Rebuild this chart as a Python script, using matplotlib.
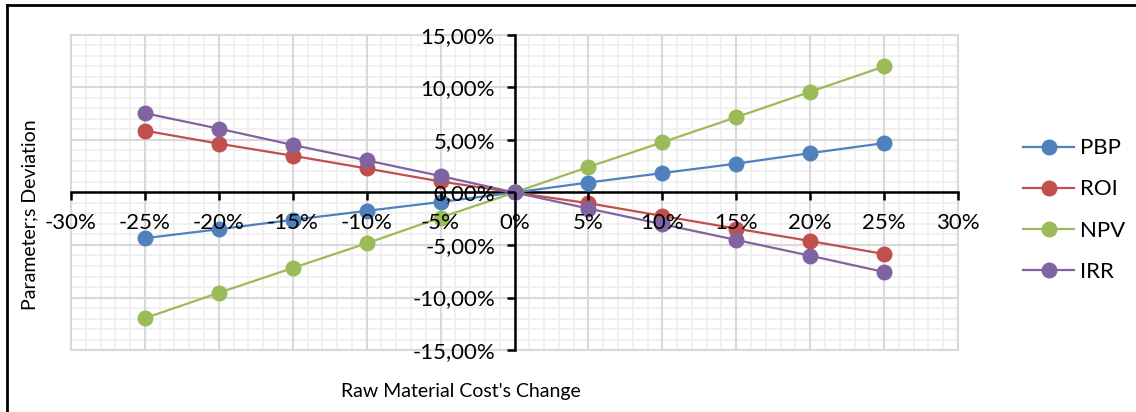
import matplotlib
matplotlib.use("Agg")
import matplotlib.pyplot as plt
from matplotlib.ticker import MultipleLocator, FuncFormatter
from matplotlib.patches import Rectangle
from matplotlib.lines import Line2D

plt.rcParams['font.family'] = ['Lato', 'DejaVu Sans']

change = [-25, -20, -15, -10, -5, 0, 5, 10, 15, 20, 25]
pbp = [-4.35, -3.5, -2.6, -1.75, -0.9, 0, 0.95, 1.85, 2.75, 3.75, 4.7]
roi = [5.89, 4.65, 3.5, 2.29, 1.05, 0, -1.02, -2.23, -3.44, -4.62, -5.86]
npv = [-11.97, -9.55, -7.19, -4.84, -2.39, 0, 2.43, 4.78, 7.17, 9.59, 12.0]
irr = [7.55, 6.08, 4.53, 3.06, 1.57, 0, -1.53, -3.02, -4.52, -6.02, -7.57]
series_names = ['PBP', 'ROI', 'NPV', 'IRR']
colors = ['#4F81BD', '#C0504D', '#9BBB59', '#8064A2']

fig = plt.figure(figsize=(11.36, 4.12), dpi=100)
ax = fig.add_axes([71/1136, 1-350/412, (958-71)/1136, (350-35)/412])

for name, vals, c in zip(series_names, [pbp, roi, npv, irr], colors):
    ax.plot(change, vals, color=c, lw=1.6, marker='o', markersize=11.5,
            markeredgewidth=0, label=name, zorder=3)

ax.set_xlim(-30, 30)
ax.set_ylim(-15, 15)
ax.xaxis.set_major_locator(MultipleLocator(5))
ax.xaxis.set_minor_locator(MultipleLocator(1))
ax.yaxis.set_major_locator(MultipleLocator(5))
ax.yaxis.set_minor_locator(MultipleLocator(1))
ax.xaxis.set_major_formatter(FuncFormatter(lambda v, p: f"{int(round(v))}%"))
ax.yaxis.set_major_formatter(FuncFormatter(lambda v, p: f"{v:.2f}%".replace('.', ',')))

# grid drawn manually below the data so tick labels can sit above markers
for v in range(-30, 31):
    major = (v % 5 == 0)
    ax.axvline(v, color='#D9D9D9' if major else '#F0F0F0',
               lw=1.5 if major else 1.3, zorder=0.5 if major else 0.2)
for v in range(-15, 16):
    major = (v % 5 == 0)
    ax.axhline(v, color='#D9D9D9' if major else '#F0F0F0',
               lw=1.5 if major else 1.3, zorder=0.5 if major else 0.2)

ax.xaxis.set_zorder(4)
ax.yaxis.set_zorder(4)

ax.spines['left'].set_position(('data', 0))
ax.spines['bottom'].set_position(('data', 0))
for s in ['left', 'bottom']:
    ax.spines[s].set_color('black')
    ax.spines[s].set_linewidth(1.8)
    ax.spines[s].set_zorder(2)
ax.spines['top'].set_visible(False)
ax.spines['right'].set_visible(False)
ax.add_patch(Rectangle((0, 0), 1, 1, transform=ax.transAxes, fill=False,
                       edgecolor='#D9D9D9', lw=1.5, clip_on=False, zorder=0.5))

ax.tick_params(which='major', direction='out', length=6, width=1.8,
               color='black', labelsize=16, pad=8)
ax.tick_params(axis='x', which='major', pad=9)
ax.tick_params(which='minor', length=0)

ax.set_xlabel("Raw Material Cost's Change", fontsize=14)
ax.xaxis.set_label_coords((461-71)/887, -(383-350)/315)
ax.set_ylabel("Parameter;s Deviation", fontsize=14)
ax.yaxis.set_label_coords(-(71-38)/887, (350-215)/315)

fig.legend(loc='center left', bbox_to_anchor=(1003/1136, 1-210/412),
           frameon=False, fontsize=16, handlelength=2.3, labelspacing=0.95,
           handletextpad=0.25)

fig.add_artist(Line2D([7/1136, 7/1136], [0, 1-5/412], transform=fig.transFigure,
                      color='black', lw=2))
fig.add_artist(Line2D([7/1136, 1], [1-5/412, 1-5/412], transform=fig.transFigure,
                      color='black', lw=2))

fig.savefig('out.png', dpi=100)
